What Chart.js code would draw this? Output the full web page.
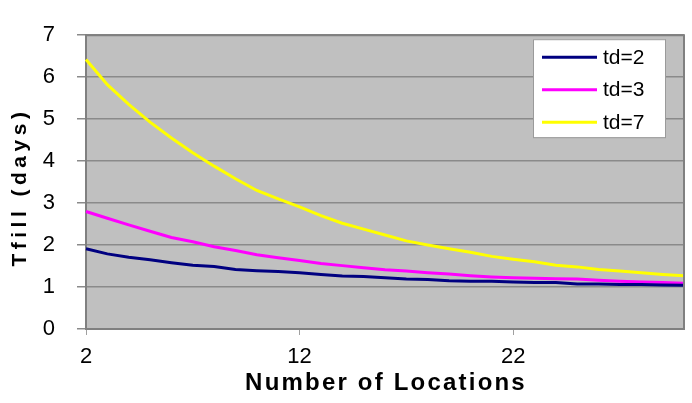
<!DOCTYPE html>
<html lang="en">
<head>
  <meta charset="UTF-8" />
  <title>Tfill vs Number of Locations</title>
  <style>
    html, body {
      margin: 0;
      padding: 0;
      background: #fff;
    }
    #chart {
      display: block;
    }
  </style>
  <script src="https://cdn.jsdelivr.net/npm/chart.js"></script>
</head>
<body>
  <canvas id="chart" width="692" height="403"></canvas>
  <script>
    // categories: number of locations 2..30
    const locations = ['2','3','4','5','6','7','8','9','10','11','12','13','14','15','16',
                       '17','18','19','20','21','22','23','24','25','26','27','28','29','30'];

    const td2 = [1.91, 1.79, 1.71, 1.65, 1.58, 1.52, 1.49, 1.42, 1.39, 1.37, 1.34, 1.30, 1.26, 1.25, 1.22,
                 1.19, 1.18, 1.15, 1.14, 1.14, 1.12, 1.11, 1.11, 1.07, 1.07, 1.06, 1.06, 1.05, 1.04];
    const td3 = [2.80, 2.64, 2.48, 2.33, 2.18, 2.08, 1.96, 1.87, 1.77, 1.70, 1.63, 1.56, 1.51, 1.46, 1.41,
                 1.38, 1.34, 1.31, 1.27, 1.24, 1.22, 1.21, 1.20, 1.19, 1.16, 1.14, 1.12, 1.11, 1.09];
    const td7 = [6.42, 5.82, 5.35, 4.93, 4.55, 4.20, 3.88, 3.58, 3.30, 3.10, 2.91, 2.70, 2.52, 2.38, 2.24,
                 2.10, 2.00, 1.91, 1.83, 1.73, 1.66, 1.60, 1.52, 1.48, 1.42, 1.38, 1.34, 1.30, 1.27];

    const seriesNames = ['td=2', 'td=3', 'td=7'];
    const seriesColors = ['#000080', '#ff00ff', '#ffff00'];

    const xTitle = 'Number of Locations';
    const yTitle = 'Tfill (days)';

    const fontFamily = "'Liberation Sans', Arial, sans-serif";

    // grey plot background + right frame
    const plotFrame = {
      id: 'plotFrame',
      beforeDraw(chart) {
        const a = chart.chartArea;
        const ctx = chart.ctx;
        ctx.save();
        ctx.fillStyle = '#c0c0c0';
        ctx.fillRect(a.left, a.top, a.right - a.left, a.bottom - a.top);
        ctx.restore();
      },
      afterDraw(chart) {
        const a = chart.chartArea;
        const ctx = chart.ctx;
        ctx.save();
        ctx.strokeStyle = '#808080';
        ctx.lineWidth = 2;
        ctx.beginPath();
        ctx.moveTo(a.left, a.top);
        ctx.lineTo(a.right, a.top);
        ctx.lineTo(a.right, a.bottom);
        ctx.stroke();
        ctx.restore();
      }
    };

    // spaced-out bold axis titles, like the original
    const axisTitles = {
      id: 'axisTitles',
      afterDraw(chart) {
        const a = chart.chartArea;
        const ctx = chart.ctx;
        ctx.save();
        ctx.fillStyle = '#000';
        ctx.textAlign = 'center';
        ctx.textBaseline = 'middle';

        ctx.font = 'bold 24px ' + fontFamily;
        ctx.letterSpacing = '2.2px';
        ctx.fillText(xTitle, (a.left + a.right) / 2 + 1, a.bottom + 54);

        ctx.font = 'bold 21px ' + fontFamily;
        ctx.letterSpacing = '4.5px';
        ctx.translate(20, (a.top + a.bottom) / 2 + 5);
        ctx.rotate(-Math.PI / 2);
        ctx.fillText(yTitle, 0, 0);
        ctx.restore();
      }
    };

    // boxed legend inside the plot, top right
    const boxLegend = {
      id: 'boxLegend',
      afterDraw(chart) {
        const a = chart.chartArea;
        const ctx = chart.ctx;
        const w = 132, h = 98;
        const x0 = a.right - 19 - w;
        const y0 = a.top + 4;
        ctx.save();
        ctx.fillStyle = '#fff';
        ctx.fillRect(x0, y0, w, h);
        ctx.strokeStyle = '#9a9a9a';
        ctx.lineWidth = 1;
        ctx.strokeRect(x0 + 0.5, y0 + 0.5, w, h);
        ctx.font = '21px ' + fontFamily;
        ctx.textBaseline = 'middle';
        ctx.fillStyle = '#000';
        chart.data.datasets.forEach((ds, i) => {
          const y = y0 + 18 + i * 32.5;
          ctx.strokeStyle = ds.borderColor;
          ctx.lineWidth = 3;
          ctx.beginPath();
          ctx.moveTo(x0 + 9, y);
          ctx.lineTo(x0 + 64, y);
          ctx.stroke();
          ctx.fillText(ds.label, x0 + 70, y + 1);
        });
        ctx.restore();
      }
    };

    new Chart(document.getElementById('chart'), {
      type: 'line',
      data: {
        labels: locations,
        datasets: [td2, td3, td7].map((vals, i) => ({
          label: seriesNames[i],
          data: vals,
          borderColor: seriesColors[i],
          backgroundColor: seriesColors[i],
          borderWidth: 3,
          pointRadius: 0,
          tension: 0,
          fill: false
        }))
      },
      options: {
        responsive: false,
        animation: false,
        layout: { padding: { top: 13, right: 8, left: 0, bottom: 0 } },
        plugins: {
          legend: { display: false },
          tooltip: { enabled: false }
        },
        scales: {
          x: {
            type: 'category',
            offset: false,
            afterFit(scale) { scale.height = 74; },
            border: { color: '#808080', width: 2 },
            grid: {
              drawOnChartArea: false,
              color: '#a0a0a0',
              tickLength: 6
            },
            ticks: {
              autoSkip: false,
              maxRotation: 0,
              padding: 9,
              color: '#000',
              font: { family: fontFamily, size: 22 },
              callback(val, idx) {
                return idx % 10 === 0 ? locations[idx] : null;
              }
            }
          },
          y: {
            min: 0,
            max: 7,
            afterFit(scale) { scale.width = 86; },
            border: { color: '#808080', width: 2 },
            grid: {
              color: '#8a8a8a',
              lineWidth: 1.5,
              tickLength: 9
            },
            ticks: {
              stepSize: 1,
              padding: 22,
              color: '#000',
              font: { family: fontFamily, size: 22 }
            }
          }
        }
      },
      plugins: [plotFrame, axisTitles, boxLegend]
    });
  </script>
</body>
</html>
